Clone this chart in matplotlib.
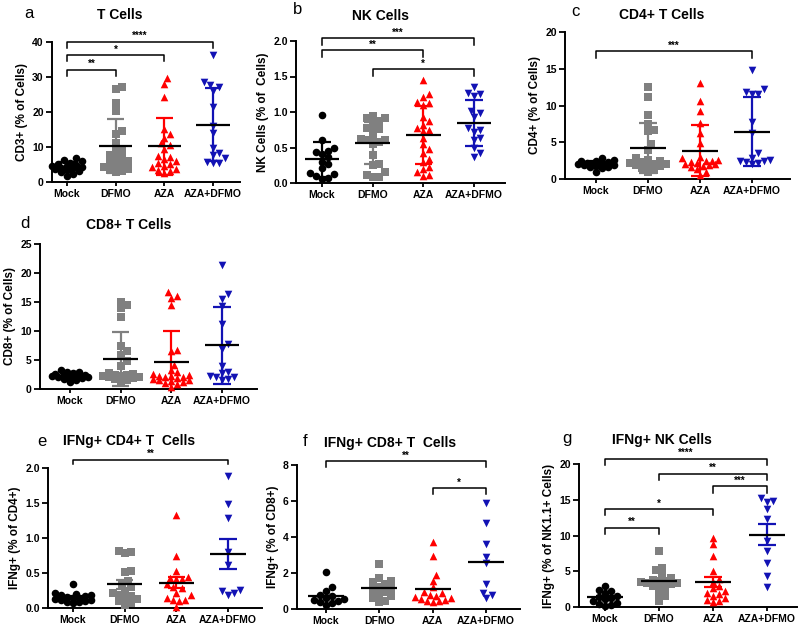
import numpy as np
import matplotlib
matplotlib.use('Agg')
import matplotlib.pyplot as plt

plt.rcParams['font.family'] = ['Liberation Sans', 'DejaVu Sans']

groups = ['Mock', 'DFMO', 'AZA', 'AZA+DFMO']
colors = ['#000000', '#808080', '#ff0000', '#1212b4']
markers = ['o', 's', '^', 'v']

# ---- data ----
a_mock = [6.8, 6.3, 5.9, 5.5, 5.2, 4.9, 4.7, 4.5, 4.3, 4.1, 3.9, 3.6, 3.4, 3.1, 2.8, 2.4, 1.6]
a_dfmo = [27.2, 26.6, 22.7, 20.2, 14.5, 13.6, 11.0, 9.0, 8.8, 7.6, 7.2, 6.6, 6.0, 5.6, 5.2, 4.8, 4.3, 3.8, 3.3, 3.0, 2.9]
a_aza = [29.6, 28.0, 24.3, 15.0, 13.6, 12.5, 10.5, 9.5, 7.5, 7.0, 6.6, 6.0, 5.5, 5.0, 4.6, 4.2, 3.8, 3.4, 3.0, 2.6, 11.0]
a_combo = [36.3, 28.5, 27.6, 27.2, 26.0, 21.5, 16.0, 13.9, 9.6, 8.3, 7.7, 6.8, 5.6, 5.4, 5.3]

b_mock = [0.96, 0.61, 0.49, 0.45, 0.43, 0.41, 0.36, 0.30, 0.27, 0.21, 0.14, 0.12, 0.10, 0.07, 0.06]
b_dfmo = [0.94, 0.92, 0.91, 0.88, 0.84, 0.78, 0.76, 0.74, 0.64, 0.62, 0.61, 0.60, 0.58, 0.55, 0.40, 0.27, 0.25, 0.16, 0.11, 0.09, 0.08]
b_aza = [1.45, 1.25, 1.21, 1.14, 1.12, 1.10, 0.93, 0.88, 0.82, 0.77, 0.75, 0.73, 0.64, 0.55, 0.48, 0.42, 0.34, 0.30, 0.22, 0.20, 0.15, 0.11, 0.10]
b_combo = [1.35, 1.27, 1.25, 1.23, 1.01, 0.98, 0.93, 0.77, 0.75, 0.72, 0.63, 0.60, 0.50, 0.42, 0.36]

c_mock = [2.8, 2.6, 2.5, 2.4, 2.3, 2.2, 2.1, 2.1, 2.0, 2.0, 1.9, 1.9, 1.8, 1.7, 1.6, 1.5, 0.9]
c_dfmo = [12.5, 11.2, 8.7, 7.5, 6.7, 6.5, 4.8, 4.0, 2.9, 2.6, 2.5, 2.3, 2.2, 2.1, 2.0, 1.9, 1.9, 1.8, 1.5, 1.2, 1.0]
c_aza = [13.0, 10.6, 9.2, 7.6, 6.2, 4.9, 3.0, 2.8, 2.6, 2.5, 2.4, 2.3, 2.2, 2.1, 2.0, 1.9, 1.8, 1.6, 1.3, 0.9, 0.5]
c_combo = [14.8, 12.2, 11.9, 11.6, 11.6, 7.7, 6.2, 3.6, 2.9, 2.6, 2.5, 2.4, 2.3, 2.2, 2.0]

d_mock = [3.2, 3.0, 2.9, 2.8, 2.6, 2.5, 2.4, 2.4, 2.3, 2.2, 2.1, 2.0, 1.9, 1.7, 1.5, 1.2]
d_dfmo = [15.0, 14.4, 13.9, 12.4, 7.4, 6.6, 5.9, 4.8, 4.0, 2.8, 2.6, 2.5, 2.4, 2.3, 2.2, 2.1, 2.0, 1.9, 1.8, 1.6, 1.4]
d_aza = [16.7, 16.0, 15.7, 14.5, 6.7, 6.5, 4.2, 3.3, 2.9, 2.6, 2.4, 2.3, 2.2, 2.1, 2.0, 1.9, 1.8, 1.6, 1.5, 1.4, 1.2, 1.0, 0.9, 0.3]
d_combo = [21.3, 16.4, 15.6, 14.3, 11.2, 7.7, 6.9, 3.9, 3.0, 2.7, 2.3, 2.1, 2.0, 1.8, 1.5]

e_mock = [0.35, 0.22, 0.20, 0.19, 0.18, 0.17, 0.16, 0.15, 0.14, 0.13, 0.12, 0.11, 0.10, 0.09, 0.08, 0.07]
e_dfmo = [0.82, 0.80, 0.78, 0.53, 0.52, 0.38, 0.33, 0.30, 0.25, 0.21, 0.19, 0.17, 0.15, 0.13, 0.10, 0.07, 0.05]
e_aza = [1.33, 0.75, 0.53, 0.45, 0.43, 0.42, 0.41, 0.35, 0.30, 0.28, 0.22, 0.18, 0.15, 0.12, 0.12, 0.10, 0.02]
e_combo = [1.89, 1.48, 1.28, 0.80, 0.62, 0.26, 0.24, 0.21, 0.18]

f_mock = [2.05, 1.20, 1.00, 0.80, 0.70, 0.62, 0.55, 0.48, 0.42, 0.38, 0.32, 0.25]
f_dfmo = [2.48, 1.72, 1.58, 1.52, 1.38, 1.25, 1.15, 1.05, 0.95, 0.85, 0.72, 0.60, 0.45, 0.40]
f_aza = [3.70, 2.92, 1.88, 1.55, 1.20, 0.95, 0.88, 0.80, 0.72, 0.66, 0.60, 0.55, 0.50, 0.46, 0.42, 0.40]
f_combo = [5.90, 4.80, 3.60, 2.90, 2.55, 1.40, 0.90, 0.80, 0.60]

g_mock = [3.0, 2.4, 2.3, 2.0, 1.6, 1.4, 1.3, 1.1, 0.9, 0.6, 0.4, 0.3, 0.1]
g_dfmo = [7.8, 5.4, 5.2, 4.5, 4.0, 3.8, 3.7, 3.6, 3.5, 3.4, 3.3, 3.2, 3.0, 2.9, 2.7, 2.0, 1.5, 0.8]
g_aza = [9.7, 8.8, 7.2, 5.1, 3.9, 3.5, 3.0, 2.6, 2.2, 2.0, 1.8, 1.6, 1.3, 1.0, 0.8, 0.7]
g_combo = [15.3, 14.8, 14.7, 13.7, 12.3, 9.3, 7.9, 6.1, 4.4, 2.8]

# significance brackets: (group i, group j, label, height)
a_sig = [(0, 3, '****', 40.0), (0, 2, '*', 36.2), (0, 1, '**', 32.0)]
b_sig = [(0, 3, '***', 2.04), (0, 2, '**', 1.87), (1, 3, '*', 1.60)]
c_sig = [(0, 3, '***', 17.4)]
e_sig = [(0, 3, '**', 2.12)]
f_sig = [(0, 3, '**', 8.22), (2, 3, '*', 6.7)]
g_sig = [(0, 3, '****', 20.7), (1, 3, '**', 18.6), (2, 3, '***', 16.9),
         (0, 2, '*', 13.7), (0, 1, '**', 11.1)]

W, H = 800, 629
fig = plt.figure(figsize=(W / 100, H / 100), dpi=100)


def swarm(vals, ppy, ppx, d, limit):
    """Compact scatter layout: spread points sideways, but within +/- limit px."""
    vals = np.asarray(vals, float)
    order = np.argsort(vals)
    placed = []
    offs = np.zeros(len(vals))
    step = d * 0.5
    cands = [0.0]
    n = 1
    while n * step <= limit:
        cands += [n * step, -n * step]
        n += 1
    for i in order:
        y = vals[i] * ppy
        best, bestd = 0.0, -1.0
        for c in cands:
            md = min([np.hypot(c - px, y - py) for px, py in placed] or [1e9])
            if md >= d:
                best = c
                break
            if md > bestd + 0.3:
                best, bestd = c, md
        placed.append((best, y))
        offs[i] = best / ppx
    return offs


def panel(box, data, ylim, yticks, yfmt, ylabel, title, tpos, letter, lpos,
          err='sd', sig=(), drop=0.0):
    spine, c0, c3, right, ytop, ybot = box
    sp = (c3 - c0) / 3.0
    xmin = -(c0 - spine) / sp
    xmax = 3 + (right - c3) / sp
    ax = fig.add_axes([spine / W, 1 - ybot / H, (right - spine) / W, (ybot - ytop) / H])
    ax.set_xlim(xmin, xmax)
    ax.set_ylim(*ylim)
    ppy = (ybot - ytop) / (ylim[1] - ylim[0])
    for i, vals in enumerate(data):
        v = np.asarray(vals, float)
        offs = swarm(v, ppy, sp, 6.0, 0.36 * sp)
        ax.scatter(i + offs, v, s=30, marker=markers[i], color=colors[i],
                   linewidths=0, zorder=3, clip_on=False)
        m = v.mean()
        if err is not None:
            s = v.std(ddof=1)
            if err == 'sem':
                s = s / np.sqrt(len(v))
            lo, hi = m - s, m + s
            ax.vlines(i, max(lo, 0), hi, color=colors[i], lw=1.6, zorder=4)
            ax.hlines([hi], i - 0.17, i + 0.17, color=colors[i], lw=1.6, zorder=4)
            if lo > 0:
                ax.hlines([lo], i - 0.17, i + 0.17, color=colors[i], lw=1.6, zorder=4)
        ax.hlines(m, i - 0.34, i + 0.34, color='black', lw=1.6, zorder=5)
    for (i, j, lab, h) in sig:
        ax.plot([i, i, j, j], [h - drop, h, h, h - drop], color='black', lw=1.1,
                clip_on=False, zorder=6)
        ax.annotate(lab, xy=((i + j) / 2, h), xytext=(0, 0.5), textcoords='offset points',
                    ha='center', va='bottom', fontsize=7, fontweight='bold',
                    annotation_clip=False)
    ax.set_xticks(range(4))
    ax.set_xticklabels(groups)
    ax.set_yticks(yticks)
    ax.set_yticklabels([yfmt.format(t) for t in yticks])
    for s in ['top', 'right']:
        ax.spines[s].set_visible(False)
    for s in ['left', 'bottom']:
        ax.spines[s].set_linewidth(1.4)
    ax.tick_params(axis='y', direction='out', length=4, width=1.3, labelsize=7.5, pad=2)
    ax.tick_params(axis='x', direction='out', length=3, width=1.3, labelsize=7.5, pad=2)
    for t in ax.get_xticklabels() + ax.get_yticklabels():
        t.set_fontweight('bold')
    ax.set_ylabel(ylabel, fontsize=8.5, fontweight='bold', labelpad=3)
    fig.text(tpos[0] / W, 1 - tpos[1] / H, title, ha='center', va='center',
             fontsize=10, fontweight='bold')
    fig.text(lpos[0] / W, 1 - lpos[1] / H, letter, ha='center', va='center', fontsize=12)
    return ax


panel((52, 67, 213, 240, 42, 182), [a_mock, a_dfmo, a_aza, a_combo], (0, 40),
      [0, 10, 20, 30, 40], '{:g}', 'CD3+ (% of Cells)', 'T Cells', (120, 15), 'a', (29, 13),
      err='sd', sig=a_sig, drop=1.7)
panel((296, 322, 474, 505, 41, 183), [b_mock, b_dfmo, b_aza, b_combo], (0, 2),
      [0, 0.5, 1.0, 1.5, 2.0], '{:.1f}', 'NK Cells (% of  Cells)', 'NK Cells', (381, 16), 'b', (298, 10),
      err='sd', sig=b_sig, drop=0.09)
panel((565, 596, 752, 790, 32, 179), [c_mock, c_dfmo, c_aza, c_combo], (0, 20),
      [0, 5, 10, 15, 20], '{:g}', 'CD4+ (% of Cells)', 'CD4+ T Cells', (662, 15), 'c', (575, 12),
      err='sd', sig=c_sig, drop=0.9)
panel((40, 70, 222, 257, 244, 389), [d_mock, d_dfmo, d_aza, d_combo], (0, 25),
      [0, 5, 10, 15, 20, 25], '{:g}', 'CD8+ (% of Cells)', 'CD8+ T Cells', (129, 225), 'd', (25, 224),
      err='sd')
panel((48, 73, 228, 262, 468, 608), [e_mock, e_dfmo, e_aza, e_combo], (0, 2),
      [0, 0.5, 1.0, 1.5, 2.0], '{:.1f}', 'IFNg+ (% of CD4+)', 'IFNg+ CD4+ T  Cells', (129, 441), 'e', (42, 441),
      err='sem', sig=e_sig, drop=0.07)
panel((297, 326, 486, 520, 465, 609), [f_mock, f_dfmo, f_aza, f_combo], (0, 8),
      [0, 2, 4, 6, 8], '{:g}', 'IFNg+ (% of CD8+)', 'IFNg+ CD8+ T  Cells', (390, 443), 'f', (305, 441),
      err=None, sig=f_sig, drop=0.32)
panel((579, 605, 767, 797, 464, 607), [g_mock, g_dfmo, g_aza, g_combo], (0, 20),
      [0, 5, 10, 15, 20], '{:g}', 'IFNg+ (% of NK1.1+ Cells)', 'IFNg+ NK Cells', (662, 440), 'g', (567, 439),
      err='sem', sig=g_sig, drop=0.9)

fig.savefig('out.png', dpi=100)
